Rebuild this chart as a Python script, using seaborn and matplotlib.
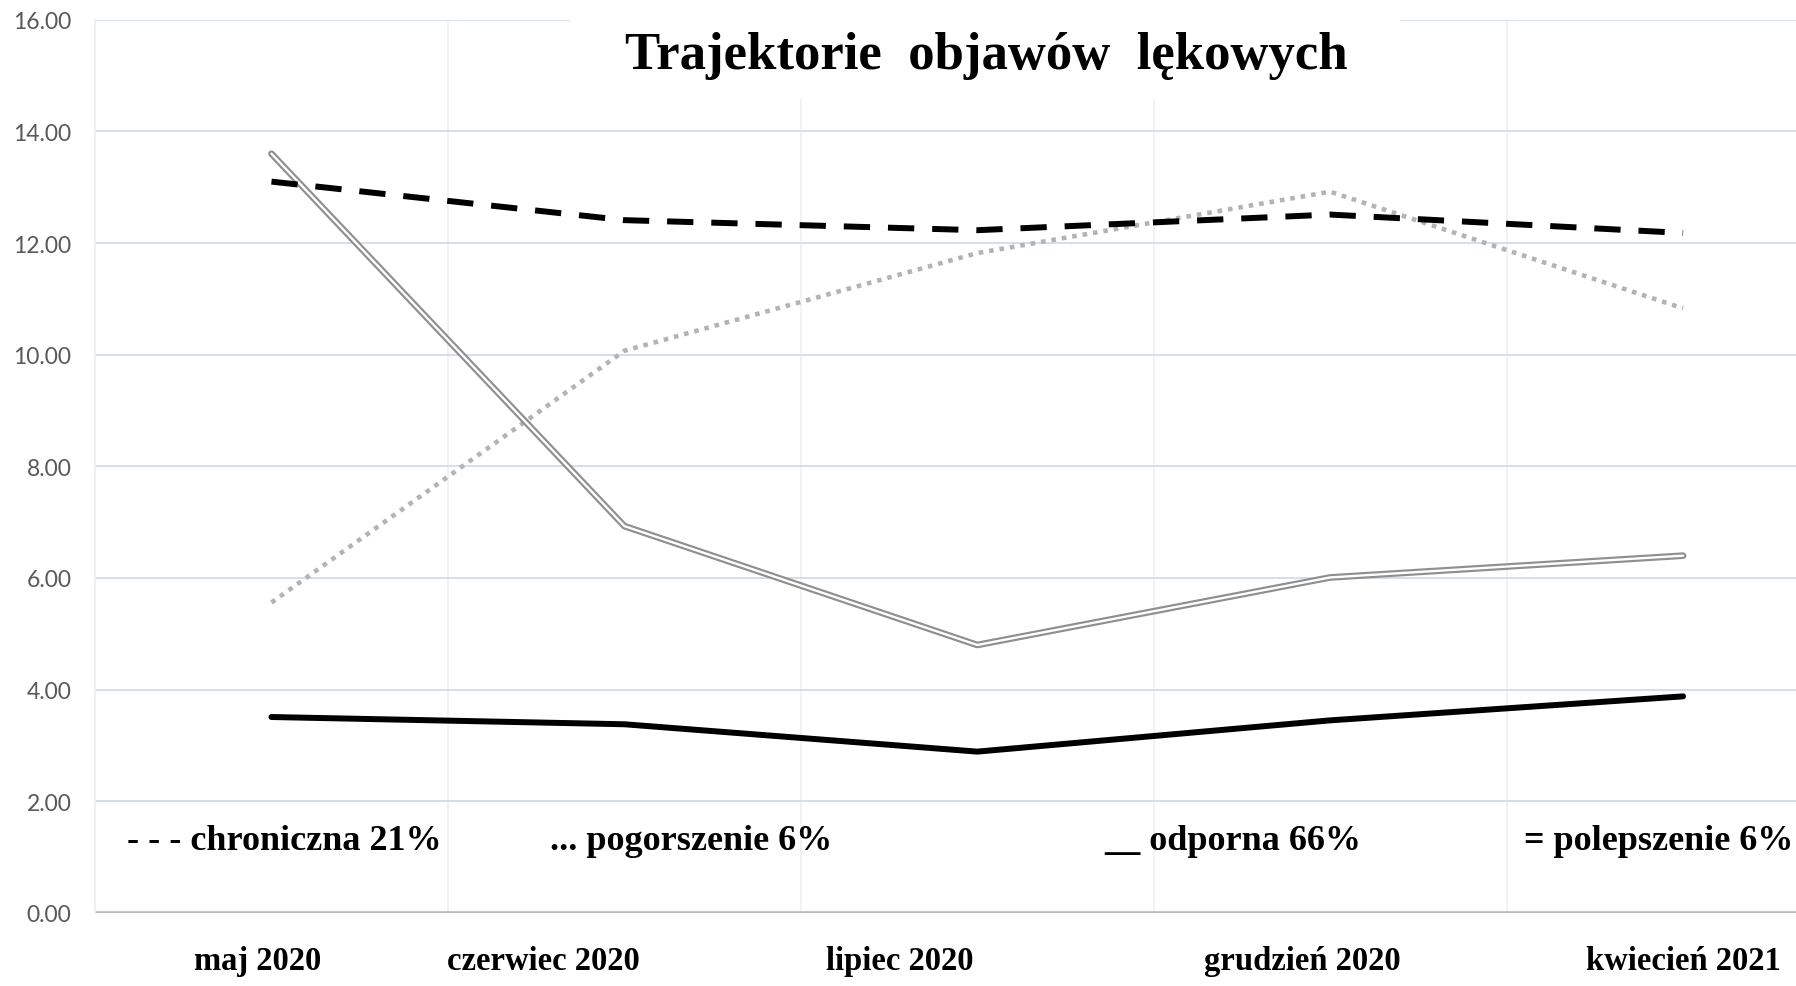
import matplotlib
matplotlib.use("Agg")
import matplotlib.pyplot as plt
import seaborn as sns
import pandas as pd
from matplotlib.patches import Rectangle
from matplotlib.ticker import FormatStrFormatter, FixedLocator

# ---- data ----
months = ["maj 2020", "czerwiec 2020", "lipiec 2020", "grudzień 2020", "kwiecień 2021"]
chroniczna = [13.10, 12.41, 12.23, 12.51, 12.18]
pogorszenie = [5.56, 10.07, 11.82, 12.92, 10.83]
odporna = [3.51, 3.38, 2.89, 3.45, 3.88]
polepszenie = [13.60, 6.93, 4.80, 6.01, 6.40]
legend_labels = ["- - - chroniczna 21%", "... pogorszenie 6%", "__ odporna 66%", "= polepszenie 6%"]
title = "Trajektorie  objawów  lękowych"
yticks = [0, 2, 4, 6, 8, 10, 12, 14, 16]

df = pd.DataFrame({"miesiac": months, "chroniczna": chroniczna, "pogorszenie": pogorszenie,
                   "odporna": odporna, "polepszenie": polepszenie})

sns.set_theme(style="white")
plt.rcParams["font.family"] = ["Liberation Serif", "DejaVu Serif"]

fig = plt.figure(figsize=(17.96, 9.87), dpi=100)
ax = fig.add_axes([0.0529, 0.074, 0.9471, 0.905])

# polepszenie: double line
sns.lineplot(data=df, x="miesiac", y="polepszenie", ax=ax, color="#8f8f8f", lw=4.8, zorder=3)
sns.lineplot(data=df, x="miesiac", y="polepszenie", ax=ax, color="white", lw=1.7, zorder=3.1)
# pogorszenie: dotted gray
sns.lineplot(data=df, x="miesiac", y="pogorszenie", ax=ax, color="#b3b3b3", lw=3.3,
             dashes=False, zorder=2)
ax.lines[-1].set_dashes((1.0, 1.3))
# chroniczna: dashed black
sns.lineplot(data=df, x="miesiac", y="chroniczna", ax=ax, color="black", lw=4.3, zorder=4)
ax.lines[-1].set_dashes((4.4, 3.0))
# odporna: solid black
sns.lineplot(data=df, x="miesiac", y="odporna", ax=ax, color="black", lw=4.3, zorder=4)

ax.set_xlim(-0.5, 4.32)
ax.set_ylim(0, 16)
ax.set_yticks(yticks)
ax.yaxis.set_major_formatter(FormatStrFormatter("%.2f"))
ax.set_xlabel("")
ax.set_ylabel("")

# horizontal grid
ax.grid(axis="y", color="#d5dfe9", lw=1.4)
# vertical faint band separators
ax.xaxis.set_minor_locator(FixedLocator([0.5, 1.5, 2.5, 3.5]))
ax.grid(axis="x", which="minor", color="#f0f0f0", lw=1.2)
ax.grid(axis="x", which="major", visible=False)
ax.axhline(0, color="#b8b8b8", lw=2.6, zorder=1.5)

for s in ["top", "right", "bottom"]:
    ax.spines[s].set_visible(False)
ax.spines["left"].set_color("#eeeeee")
ax.spines["left"].set_linewidth(1.2)

# x tick labels (offset as in the original picture)
label_pos = [-0.04, 0.77, 1.78, 2.92, 4.0]
ax.set_xticks(label_pos)
ax.set_xticklabels(months, fontsize=23.5, fontweight="bold", color="black")
ax.tick_params(axis="x", which="both", length=0, pad=23)
ax.tick_params(axis="y", length=0, pad=17, labelsize=16.5, labelcolor="#595959")
for t in ax.get_yticklabels():
    t.set_family(["Lato", "DejaVu Sans"])

# in-plot legend texts
legend_x = [-0.41, 0.79, 2.36, 3.55]
for lx, lab in zip(legend_x, legend_labels):
    ax.text(lx, 1.29, lab, fontsize=26, fontweight="bold", color="black",
            ha="left", va="center", zorder=5)

# title with white background box
fig.add_artist(Rectangle((570 / 1796, 1 - 100 / 987), 830 / 1796, 100 / 987,
                         transform=fig.transFigure, facecolor="white", edgecolor="none", zorder=2))
fig.text(0.549, 0.93, title, fontsize=38, fontweight="bold", ha="center", va="baseline",
         color="black", zorder=3)

fig.savefig("out.png", dpi=100, facecolor="white")
